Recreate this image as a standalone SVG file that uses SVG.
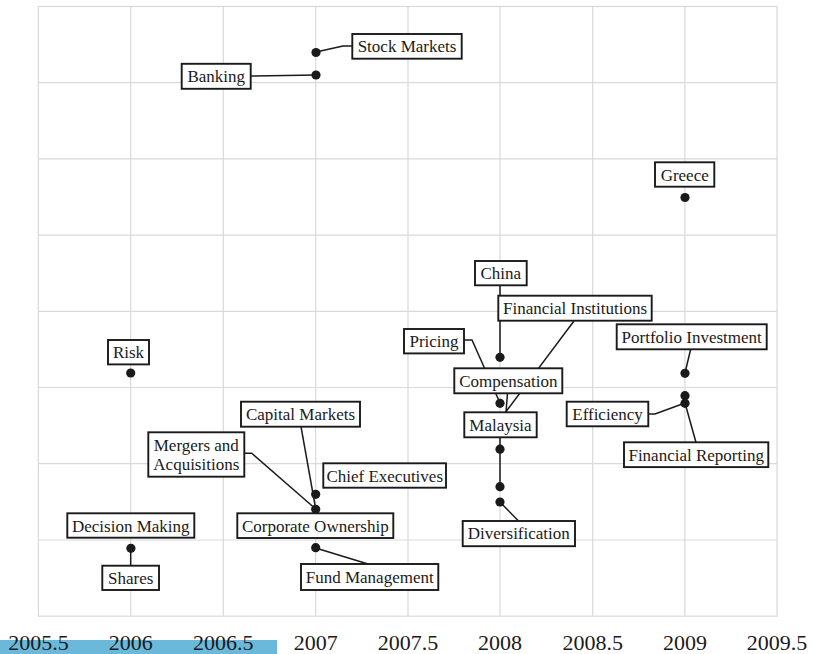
<svg xmlns="http://www.w3.org/2000/svg" width="813" height="654" viewBox="0 0 813 654">
<style>
.grid{stroke:#d9d9d9;stroke-width:1.2;fill:none}
.seg{stroke:#1a1a1a;stroke-width:1.5;fill:none}
.dot{fill:#1a1a1a}
.box rect{fill:#fff;stroke:#1a1a1a;stroke-width:1.9}
.box text{font-size:17px;fill:#1a1a1a;text-anchor:middle}
.axis{font-size:22px;fill:#1a1a1a;text-anchor:middle}
</style>
<rect width="813" height="654" fill="#fff"/>
<g id="grid">
<rect class="grid" x="38.4" y="6.5" width="738.6" height="609.7"/>
<path class="grid" d="M130.7 6.5V616.2M223.3 6.5V616.2M315.7 6.5V616.2M408 6.5V616.2M500 6.5V616.2M592.7 6.5V616.2M684.9 6.5V616.2M38.4 82.7H777M38.4 158.9H777M38.4 235.1H777M38.4 311.3H777M38.4 387.5H777M38.4 463.7H777M38.4 540H777"/>
</g>
<g id="connectors">
<polyline class="seg" points="316,52 343,46 352,46"/>
<polyline class="seg" points="250.7,76 316,75"/>
<polyline class="seg" points="500,285 500,357"/>
<polyline class="seg" points="574,321 505,413"/>
<polyline class="seg" points="464,340 472,340 500,403"/>
<polyline class="seg" points="507.5,393 506,412.5"/>
<polyline class="seg" points="500,437 500,487"/>
<polyline class="seg" points="500,502 518,520.5"/>
<polyline class="seg" points="690.7,349 685,373"/>
<polyline class="seg" points="648,414 655,414 685,403"/>
<polyline class="seg" points="685,403 696,442.5"/>
<polyline class="seg" points="301,426.7 315.7,509"/>
<polyline class="seg" points="244.3,453.3 251.7,453.3 315.7,509"/>
<polyline class="seg" points="315.7,548 368,564"/>
<polyline class="seg" points="130.7,548 130.7,566"/>
</g>
<g id="points">
<circle class="dot" cx="316" cy="52.5" r="4.6"/>
<circle class="dot" cx="316" cy="75" r="4.6"/>
<circle class="dot" cx="685" cy="197.5" r="4.6"/>
<circle class="dot" cx="130.7" cy="373" r="4.6"/>
<circle class="dot" cx="500" cy="357.3" r="4.6"/>
<circle class="dot" cx="500" cy="403.3" r="4.6"/>
<circle class="dot" cx="500" cy="449.2" r="4.6"/>
<circle class="dot" cx="500" cy="486.7" r="4.6"/>
<circle class="dot" cx="500" cy="502" r="4.6"/>
<circle class="dot" cx="685" cy="373.3" r="4.6"/>
<circle class="dot" cx="685" cy="395.7" r="4.6"/>
<circle class="dot" cx="685" cy="403.3" r="4.6"/>
<circle class="dot" cx="315.7" cy="494.3" r="4.6"/>
<circle class="dot" cx="315.7" cy="509.3" r="4.6"/>
<circle class="dot" cx="315.7" cy="547.7" r="4.6"/>
<circle class="dot" cx="130.9" cy="548.3" r="4.6"/>
</g>
<g id="labels" font-family="'Liberation Serif', 'Times New Roman', Times, 'DejaVu Serif', serif">
<g id="n-stock-markets" class="box"><rect x="352.3" y="34" width="109.4" height="24.7"/><text x="407" y="52.3">Stock Markets</text></g>
<g id="n-banking" class="box"><rect x="181.7" y="63.8" width="69" height="25"/><text x="216.2" y="82.3">Banking</text></g>
<g id="n-greece" class="box"><rect x="655" y="162.3" width="59.3" height="24.4"/><text x="684.7" y="180.5">Greece</text></g>
<g id="n-risk" class="box"><rect x="108" y="340" width="41" height="24.4"/><text x="128.5" y="358.2">Risk</text></g>
<g id="n-china" class="box"><rect x="475" y="261" width="51.7" height="24.3"/><text x="500.8" y="279">China</text></g>
<g id="n-financial-institutions" class="box"><rect x="498.3" y="295.7" width="153.4" height="25"/><text x="575" y="314">Financial Institutions</text></g>
<g id="n-pricing" class="box"><rect x="404" y="329" width="60" height="24.4"/><text x="434" y="347.2">Pricing</text></g>
<g id="n-compensation" class="box"><rect x="454.3" y="368.3" width="108" height="25"/><text x="508.3" y="386.6">Compensation</text></g>
<g id="n-malaysia" class="box"><rect x="464.3" y="412.3" width="72.4" height="25"/><text x="500.5" y="430.6">Malaysia</text></g>
<g id="n-portfolio-investment" class="box"><rect x="616.7" y="324.3" width="150" height="25"/><text x="691.7" y="342.6">Portfolio Investment</text></g>
<g id="n-efficiency" class="box"><rect x="566.7" y="401.7" width="81.6" height="24.6"/><text x="607.5" y="419.9">Efficiency</text></g>
<g id="n-financial-reporting" class="box"><rect x="624" y="442.3" width="144.3" height="24.8"/><text x="696.2" y="460.6">Financial Reporting</text></g>
<g id="n-diversification" class="box"><rect x="462.7" y="521" width="112.3" height="25.2"/><text x="518.8" y="539.4">Diversification</text></g>
<g id="n-capital-markets" class="box"><rect x="241" y="401.7" width="119" height="25"/><text x="300.5" y="420">Capital Markets</text></g>
<g id="n-mergers" class="box"><rect x="148.3" y="432.3" width="96" height="44.4"/><text x="196.3" y="450.5">Mergers and</text><text x="196.3" y="469.8">Acquisitions</text></g>
<g id="n-chief-executives" class="box"><rect x="323.3" y="463.3" width="122.7" height="24.4"/><text x="384.7" y="481.5">Chief Executives</text></g>
<g id="n-corporate-ownership" class="box"><rect x="237.3" y="513.3" width="156" height="24.7"/><text x="315.3" y="531.6">Corporate Ownership</text></g>
<g id="n-decision-making" class="box"><rect x="67.3" y="513.3" width="127" height="24.4"/><text x="130.8" y="531.5">Decision Making</text></g>
<g id="n-fund-management" class="box"><rect x="301" y="564" width="137.3" height="26"/><text x="369.7" y="582.8">Fund Management</text></g>
<g id="n-shares" class="box"><rect x="102.3" y="565.7" width="56.7" height="24.3"/><text x="130.7" y="583.9">Shares</text></g>
</g>
<rect x="0" y="640" width="277" height="14" fill="#6bb9da"/>
<g id="x-axis" font-family="'Liberation Serif', 'Times New Roman', Times, 'DejaVu Serif', serif">
<text class="axis" x="38.4" y="650">2005.5</text>
<text class="axis" x="130.7" y="650">2006</text>
<text class="axis" x="223.3" y="650">2006.5</text>
<text class="axis" x="315.7" y="650">2007</text>
<text class="axis" x="408" y="650">2007.5</text>
<text class="axis" x="500" y="650">2008</text>
<text class="axis" x="592.7" y="650">2008.5</text>
<text class="axis" x="684.9" y="650">2009</text>
<text class="axis" x="777" y="650">2009.5</text>
</g>
</svg>
